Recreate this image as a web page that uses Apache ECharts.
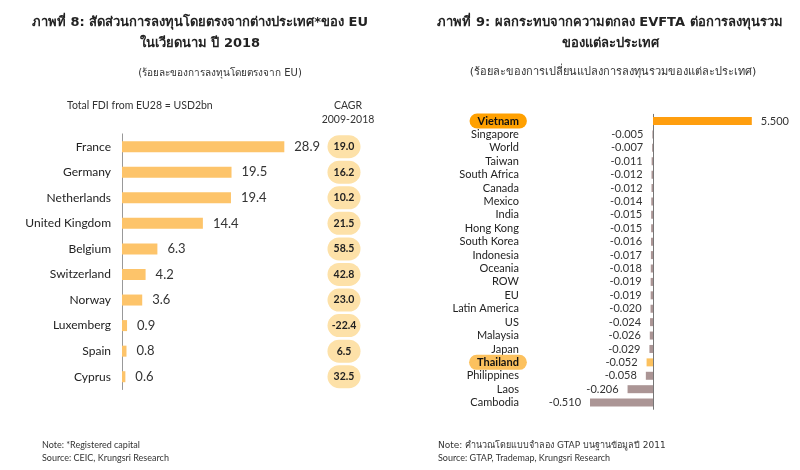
<!DOCTYPE html>
<html><head><meta charset="utf-8">
<script src="https://cdn.jsdelivr.net/npm/echarts@6/dist/echarts.min.js"></script>
<style>html,body{margin:0;padding:0;background:#fff}#c{width:800px;height:470px}</style>
</head><body><div id="c"></div>
<script>
// Left chart data
const fdiCountries = ['France','Germany','Netherlands','United Kingdom','Belgium','Switzerland','Norway','Luxemberg','Spain','Cyprus'];
const fdiShare = [28.9,19.5,19.4,14.4,6.3,4.2,3.6,0.9,0.8,0.6];
const fdiCagr = [19.0,16.2,10.2,21.5,58.5,42.8,23.0,-22.4,6.5,32.5];
// Right chart data
const evCountries = ['Vietnam','Singapore','World','Taiwan','South Africa','Canada','Mexico','India','Hong Kong','South Korea','Indonesia','Oceania','ROW','EU','Latin America','US','Malaysia','Japan','Thailand','Philippines','Laos','Cambodia'];
const evChange = [5.5,-0.005,-0.007,-0.011,-0.012,-0.012,-0.014,-0.015,-0.015,-0.016,-0.017,-0.018,-0.019,-0.019,-0.020,-0.024,-0.026,-0.029,-0.052,-0.058,-0.206,-0.510];

const F = 'Lato, "Noto Sans", sans-serif';
const TF = 'Tahoma, "DejaVu Sans", "Noto Sans", sans-serif';

const chart = echarts.init(document.getElementById('c'), null, {renderer:'canvas'});
const txt = (text, x, y, opt) => Object.assign({text, left:x, top:y, textStyle:Object.assign({fontFamily:F, fontSize:11, color:'#333', fontWeight:'normal'}, opt||{})});

chart.setOption({
  animation:false,
  title:[
    {text:'ภาพที่ 8: สัดส่วนการลงทุนโดยตรงจากต่างประเทศ*ของ EU\nในเวียดนาม ปี 2018', left:195, top:7, textAlign:'center',
      textStyle:{fontFamily:TF, fontSize:13, fontWeight:'bold', color:'#222', lineHeight:21, align:'center'}},
    {text:'(ร้อยละของการลงทุนโดยตรงจาก EU)', left:215, top:63, textAlign:'center', textStyle:{fontFamily:TF, fontSize:10, color:'#333', fontWeight:'normal'}},
    {text:'ภาพที่ 9: ผลกระทบจากความตกลง EVFTA ต่อการลงทุนรวม\nของแต่ละประเทศ', left:605, top:7, textAlign:'center',
      textStyle:{fontFamily:TF, fontSize:13, fontWeight:'bold', color:'#222', lineHeight:21, align:'center'}},
    {text:'(ร้อยละของการเปลี่ยนแปลงการลงทุนรวมของแต่ละประเทศ)', left:608, top:62, textAlign:'center', textStyle:{fontFamily:TF, fontSize:11, color:'#333', fontWeight:'normal'}},
    txt('Total FDI from EU28 = USD2bn', 62, 95, {fontSize:10.5}),
    {text:'CAGR\n2009-2018', left:343, top:94, textAlign:'center', textStyle:{fontFamily:F, fontSize:10.5, color:'#333', lineHeight:14, align:'center', fontWeight:'normal'}},
    txt('Note: *Registered capital', 37, 436, {fontSize:9}),
    txt('Source: CEIC, Krungsri Research', 37, 449, {fontSize:9}),
    txt('Note: คำนวณโดยแบบจำลอง GTAP บนฐานข้อมูลปี 2011', 433, 436, {fontSize:9, fontFamily:TF}),
    txt('Source: GTAP, Trademap, Krungsri Research', 433, 449, {fontSize:9})
  ],
  grid:[
    {left:122, top:133.9, width:168.5, height:255.6},
    {left:578.9, top:114.3, width:172.9, height:295}
  ],
  xAxis:[
    {gridIndex:0, type:'value', min:0, max:30, show:false},
    {gridIndex:1, type:'value', min:-0.6, max:0.8, show:false}
  ],
  yAxis:[
    {gridIndex:0, type:'category', data:fdiCountries, inverse:true,
      axisLine:{lineStyle:{color:'#999'}}, axisTick:{length:4, lineStyle:{color:'#999'}},
      axisLabel:{margin:11, fontFamily:F, fontSize:12, color:'#222'}},
    {gridIndex:0, type:'category', data:fdiCagr.map(v=>v.toFixed(1)), inverse:true, position:'right',
      axisLine:{show:false, onZero:false}, axisTick:{show:false},
      axisLabel:{margin:37, formatter:v=>'{c|'+v+'}',
        rich:{c:{width:33, height:23, align:'center', backgroundColor:'#fde1a8', borderRadius:12,
          fontFamily:F, fontSize:10.5, fontWeight:'bold', color:'#222'}}}},
    {gridIndex:1, type:'category', data:evCountries, inverse:true,
      axisLine:{lineStyle:{color:'#777'}}, axisTick:{length:3, lineStyle:{color:'#777'}},
      axisLabel:{margin:52, interval:0,
        formatter:v=> v==='Vietnam' ? '{vn|'+v+'}' : (v==='Thailand' ? '{th|'+v+'}' : '{n|'+v+'}'),
        rich:{
          n:{fontFamily:F, fontSize:11, color:'#222', padding:[0,8,0,0]},
          vn:{fontFamily:F, fontSize:11, fontWeight:'bold', color:'#111', backgroundColor:'#ffa000', borderRadius:8, padding:[2,8,2,8]},
          th:{fontFamily:F, fontSize:11, fontWeight:'bold', color:'#111', backgroundColor:'#fcc15e', borderRadius:8, padding:[2,8,2,8]}
        }}}
  ],
  series:[
    {type:'bar', xAxisIndex:0, yAxisIndex:0, data:fdiShare, barWidth:11,
      itemStyle:{color:'#fdc46a'},
      label:{show:true, position:'right', distance:10, fontFamily:F, fontSize:13, color:'#333', formatter:p=>p.value.toFixed(1)}},
    {type:'bar', xAxisIndex:1, yAxisIndex:2, barWidth:8, clip:true,
      data:evChange.map((v,i)=>({value:v,
        itemStyle:{color: evCountries[i]==='Vietnam' ? '#ff9e0e' : (evCountries[i]==='Thailand' ? '#fcc15e' : '#ab9595')},
        label:{position: v<0 ? 'left':'right'}})),
      label:{show:true, distance:9, fontFamily:F, fontSize:11, color:'#333', formatter:p=>p.value.toFixed(3)}}
  ]
});
</script></body></html>
